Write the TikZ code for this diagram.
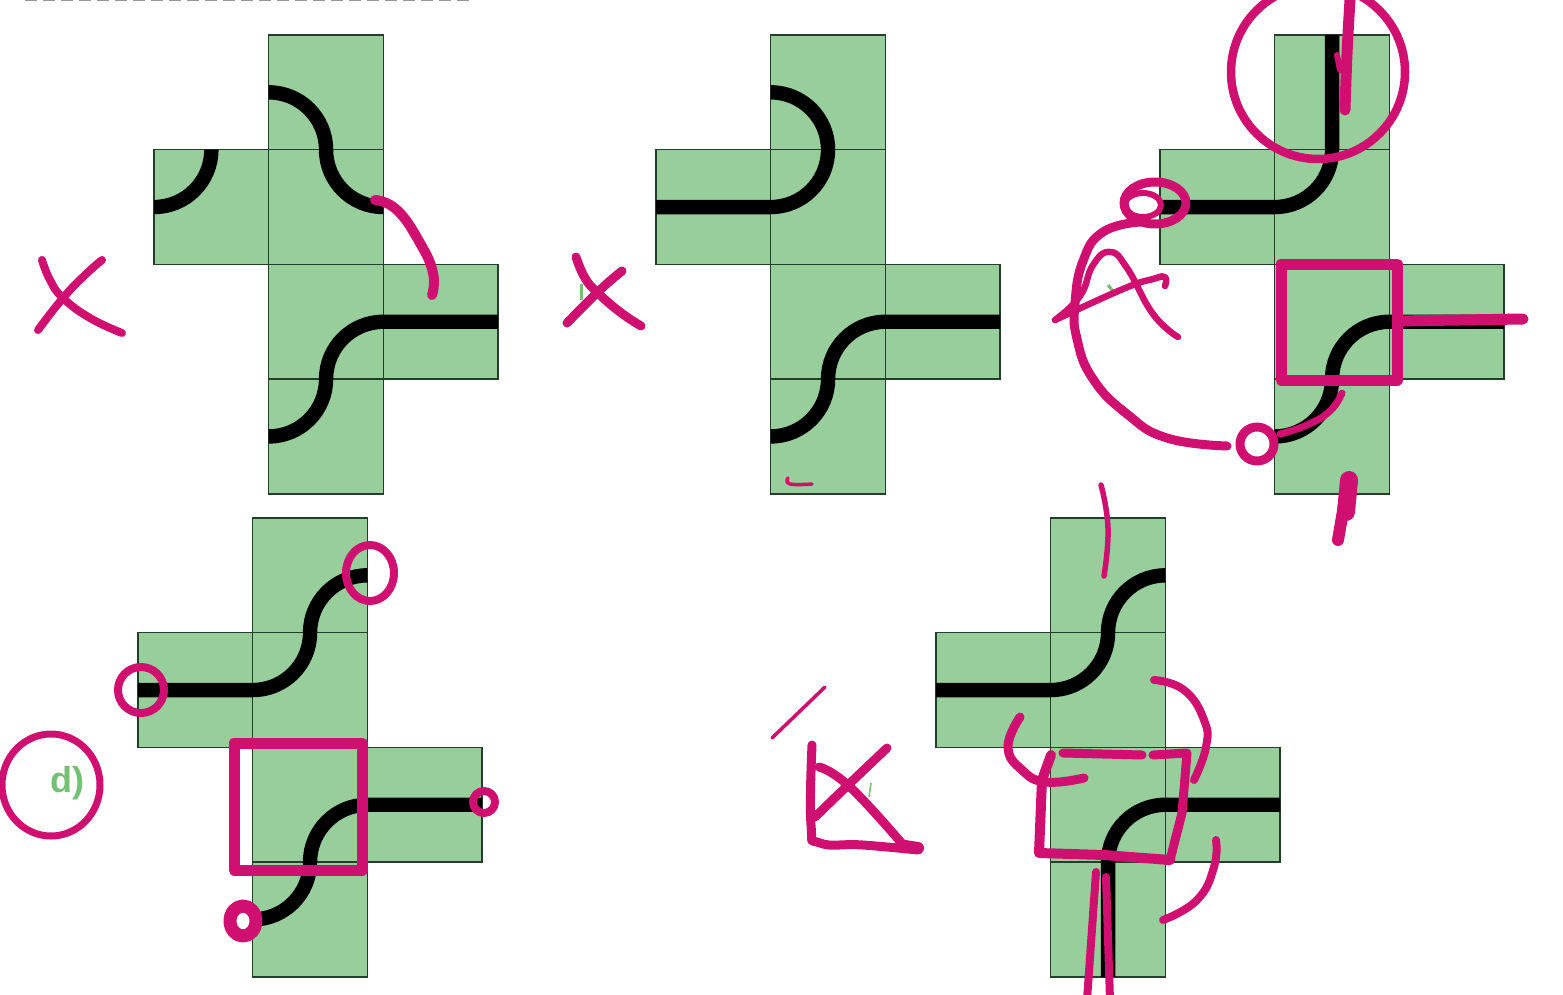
\documentclass[tikz,border=0pt]{standalone}
\usepackage{fontspec}
\setmainfont{Liberation Sans}
\definecolor{NTgreen}{RGB}{152,206,155}
\definecolor{NTline}{RGB}{36,62,44}
\definecolor{NTink}{RGB}{208,16,112}
\definecolor{NTlabel}{RGB}{116,192,116}
\definecolor{NTgray}{RGB}{150,150,150}
\tikzset{
  net/.style 2 args={shift={(#1,#2)},x=57.35pt,y=-57.35pt},
  netcell/.style={fill=NTgreen,draw=none},
  netgrid/.style={draw=NTline,line width=.75pt},
  track/.style={draw=black,line width=7.2pt,rounded corners=28.67pt},
  ink/.style={draw=NTink,line cap=round,line join=round,line width=#1},
  ink/.default=4pt,
  every plot/.style={tension=.8},
  lbl/.style={text=NTlabel,font=\fontsize{18}{20}\selectfont\bfseries,inner sep=0pt},
}
\newcommand{\crossnet}{
  \foreach \cx/\cy in {0/1,1/0,1/1,1/2,1/3,2/2} \fill[netcell] (\cx,\cy) rectangle +(1,1);
  \foreach \cx/\cy in {0/1,1/0,1/1,1/2,1/3,2/2} \draw[netgrid] (\cx,\cy) rectangle +(1,1);
}
\newcommand{\lowtrack}{\draw[track] (3,2.5) -- (1.5,2.5) -- (1.5,3.5) -- (1,3.5);}
\begin{document}
\begin{tikzpicture}[x=.5pt,y=-.5pt]
  \useasboundingbox (0,0) rectangle (1563,995);
  \fill[white] (0,0) rectangle (1563,995);
  \draw[NTgray,line width=1pt,dash pattern=on 6pt off 3pt] (25,0) -- (470,0);

  \begin{scope}[net={154}{35}]
    \crossnet
    \lowtrack
    \draw[track] (1,.5) -- (1.5,.5) -- (1.5,1.5) -- (2,1.5);
    \draw[track] (0,1.5) -- (.5,1.5) -- (.5,1);
  \end{scope}
  \begin{scope}[net={656}{35}]
    \crossnet
    \lowtrack
    \draw[track] (1,.5) -- (1.5,.5) -- (1.5,1.5) -- (0,1.5);
  \end{scope}
  \begin{scope}[net={1160}{35}]
    \crossnet
    \lowtrack
    \draw[track] (1.5,0) -- (1.5,1.5) -- (0,1.5);
  \end{scope}
  \begin{scope}[net={138}{518}]
    \crossnet
    \lowtrack
    \draw[track] (2,.5) -- (1.5,.5) -- (1.5,1.5) -- (0,1.5);
  \end{scope}
  \begin{scope}[net={936}{518}]
    \crossnet
    \draw[track] (3,2.5) -- (1.5,2.5) -- (1.5,4);
    \draw[track] (2,.5) -- (1.5,.5) -- (1.5,1.5) -- (0,1.5);
  \end{scope}

  \node[lbl,anchor=west] (lbld) at (50,783) {d)};
  \draw[NTlabel,line width=1.5pt] (581,284) -- (581,300);
  \draw[NTlabel,line width=1.5pt] (1108,285) -- (1116,295);
  \draw[NTlabel,line width=.75pt] (871,783) -- (869,797);

  % a
  \draw[ink] plot[smooth] coordinates {(42,260) (50,280) (63,298) (90,318) (122,333)};
  \draw[ink] plot[smooth] coordinates {(102,260) (85,275) (63,298) (38,330)};
  \draw[ink=5pt] plot[smooth] coordinates {(375,200) (397,210) (420,243) (433,273) (432,295)};

  % b
  \draw[ink=4.5pt] plot[smooth] coordinates {(576,257) (585,278) (598,293) (620,312) (641,326)};
  \draw[ink=4.5pt] plot[smooth] coordinates {(622,271) (600,290) (567,323)};
  \draw[ink=1.75pt] plot[smooth] coordinates {(788,478) (790,484) (812,484)};

  % c
  \draw[ink=4.25pt] (1318,72) circle [radius=87];
  \draw[ink=5.5pt] plot[smooth] coordinates {(1350,0) (1347,54) (1345,110)};
  \draw[ink=3pt] (1337,55) -- (1340,70);
  \draw[ink=4.5pt] (1155,203) ellipse [x radius=31,y radius=21];
  \draw[ink=3pt] (1143,205) ellipse [x radius=18,y radius=12];
  \draw[ink=4.5pt] plot[smooth] coordinates {(1140,222) (1103,232) (1083,261) (1075,304) (1077,339) (1093,379) (1127,414) (1167,438) (1227,446)};
  \draw[ink=4.5pt] (1257,444) circle [radius=17];
  \draw[ink=3.5pt] plot[smooth] coordinates {(1280,434) (1307,425) (1330,411) (1342,393)};
  \draw[ink=3.25pt] plot[smooth] coordinates {(1055,320) (1080,296) (1093,265) (1110,252) (1127,268) (1153,314) (1178,337)};
  \draw[ink=3.25pt] plot[smooth] coordinates {(1055,320) (1123,289) (1153,279) (1165,277) (1165,286)};
  \draw[ink=5.5pt] (1281,264) rectangle (1397,380);
  \draw[ink=5.5pt] (1397,321) -- (1523,319);
  \draw[ink=9pt] (1349,480) -- (1346,512);
  \draw[ink=6pt] (1344,505) -- (1338,540);

  % d
  \draw[ink=3.5pt] (51,785) ellipse [x radius=49,y radius=51];
  \draw[ink=4pt] (370,573) ellipse [x radius=24,y radius=28];
  \draw[ink=4pt] (141,690) circle [radius=23];
  \draw[ink=4pt] (484,802) circle [radius=11];
  \draw[ink=6.5pt] (243,921) ellipse [x radius=13,y radius=15];
  \draw[ink=5.5pt] (234,743) rectangle (362,870);

  % e
  \draw[ink=1.75pt] (772,738) -- (825,687);
  \draw[ink=4.5pt] plot[smooth] coordinates {(812,745) (811,825) (820,843) (863,845) (918,850)};
  \draw[ink=6pt] (905,846) -- (918,848);
  \draw[ink=4.5pt] plot[smooth] coordinates {(819,767) (850,787) (905,847)};
  \draw[ink=4.5pt] plot[smooth] coordinates {(887,748) (846,787) (815,817)};
  \draw[ink=2.75pt] plot[smooth] coordinates {(1101,485) (1108,528) (1104,576)};
  \draw[ink=4.5pt] (1063,753) -- (1142,755);
  \draw[ink=4.5pt] (1153,755) -- (1187,753) -- (1182,813) -- (1170,860);
  \draw[ink=5pt] (1170,860) -- (1104,855) -- (1039,853) -- (1042,780) -- (1051,755);
  \draw[ink=4.5pt] plot[smooth] coordinates {(1020,717) (1008,747) (1022,770) (1046,782) (1084,778)};
  \draw[ink] plot[smooth] coordinates {(1154,680) (1184,690) (1204,720) (1206,747) (1194,780)};
  \draw[ink] plot[smooth] coordinates {(1216,840) (1214,867) (1197,900) (1163,920)};
  \draw[ink] (1096,872) -- (1087,1000);
  \draw[ink] (1106,877) -- (1110,1000);
\end{tikzpicture}
\end{document}
